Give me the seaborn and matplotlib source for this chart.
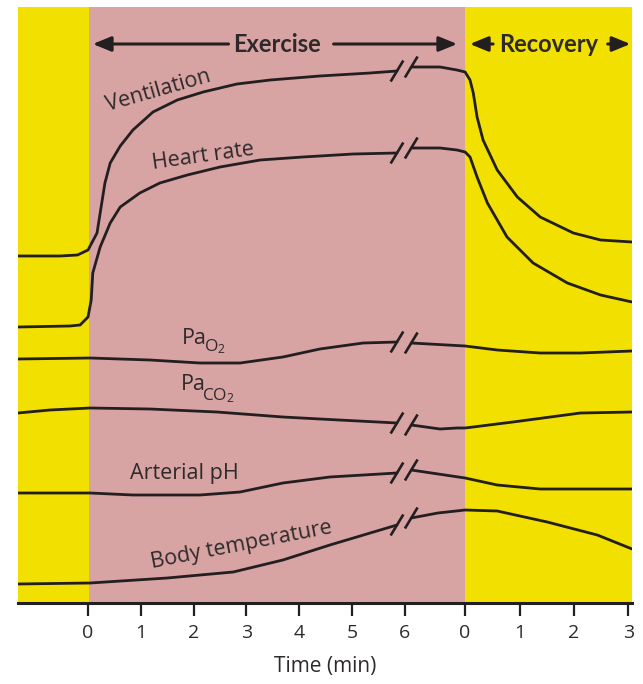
import numpy as np
import pandas as pd
import matplotlib
matplotlib.use("Agg")
import matplotlib.pyplot as plt
import seaborn as sns

# x axis: exercise minutes sit on x directly, recovery minutes start at REC0
REC0 = 7.14
REC_SCALE = 1.03

ex_ticks = [0, 1, 2, 3, 4, 5, 6]
rec_ticks = [0, 1, 2, 3]

# values are relative levels (arbitrary units)
# *_ex: before the axis break (exercise minutes), *_rec: after the break
# (minutes relative to end of exercise, negatives = last part of exercise)
vent_ex_t = [-1.33, -0.53, -0.2, 0.0, 0.17, 0.23, 0.32, 0.42, 0.61, 0.85, 1.23, 1.69, 2.18, 2.82, 3.45, 4.39, 5.34, 5.85]
vent_ex_y = [347, 347, 348, 353, 370, 390, 420, 440, 457, 473, 491, 503, 511, 519, 523, 527, 530, 532]
vent_rec_t = [-0.99, -0.46, -0.15, 0.0, 0.09, 0.15, 0.22, 0.33, 0.59, 0.96, 1.38, 1.99, 2.49, 3.07]
vent_rec_y = [536, 536, 533, 531, 523, 510, 486, 463, 433, 406, 386, 370, 363, 361]

hr_ex_t = [-1.33, -0.34, -0.15, 0.0, 0.06, 0.09, 0.23, 0.42, 0.61, 0.98, 1.36, 1.88, 2.5, 3.26, 4.07, 5.02, 5.85]
hr_ex_y = [276, 277, 278, 286, 303, 330, 356, 380, 396, 410, 420, 428, 436, 443, 446, 449, 450]
hr_rec_t = [-0.99, -0.46, -0.15, 0.0, 0.09, 0.22, 0.41, 0.77, 1.25, 1.88, 2.49, 3.07]
hr_rec_y = [455, 455, 453, 451, 446, 426, 400, 366, 340, 320, 308, 301]

po2_ex_t = [-1.33, 0.04, 1.17, 2.12, 2.88, 3.69, 4.39, 5.21, 5.85]
po2_ex_y = [244, 245, 243, 240, 240, 246, 254, 260, 261]
po2_rec_t = [-0.99, 0.0, 0.59, 1.38, 2.12, 3.07]
po2_rec_y = [260, 257, 253, 250, 250, 252]

pco2_ex_t = [-1.33, -0.72, 0.04, 1.17, 2.44, 3.69, 4.39, 5.85]
pco2_ex_y = [190, 193, 195, 194, 191, 186, 184, 180]
pco2_rec_t = [-0.99, -0.46, -0.15, 0.0, 0.88, 2.12, 3.07]
pco2_rec_y = [178, 174, 175, 175, 181, 190, 191]

ph_ex_t = [-1.33, 0.04, 0.85, 2.12, 2.88, 3.69, 4.58, 5.85]
ph_ex_y = [110, 110, 108, 108, 111, 120, 126, 130]
ph_rec_t = [-0.99, 0.0, 0.59, 1.38, 3.07]
ph_rec_y = [133, 125, 118, 114, 114]

temp_ex_t = [-1.33, 0.04, 1.5, 2.75, 3.69, 4.58, 5.85]
temp_ex_y = [19, 20, 25, 31, 43, 58, 78]
temp_rec_t = [-0.99, -0.5, 0.0, 0.59, 1.51, 2.43, 3.07]
temp_rec_y = [85, 90, 93, 92, 81, 68, 54]

curves = [
    ("vent", vent_ex_t, vent_ex_y, vent_rec_t, vent_rec_y),
    ("hr", hr_ex_t, hr_ex_y, hr_rec_t, hr_rec_y),
    ("po2", po2_ex_t, po2_ex_y, po2_rec_t, po2_rec_y),
    ("pco2", pco2_ex_t, pco2_ex_y, pco2_rec_t, pco2_rec_y),
    ("ph", ph_ex_t, ph_ex_y, ph_rec_t, ph_rec_y),
    ("temp", temp_ex_t, temp_ex_y, temp_rec_t, temp_rec_y),
]

rows = []
for name, et, ey, rt, ry in curves:
    for t, y in zip(et, ey):
        rows.append((name, name + "_pre", t, y))
    for t, y in zip(rt, ry):
        rows.append((name, name + "_post", REC0 + REC_SCALE * t, y))
df = pd.DataFrame(rows, columns=["curve", "seg", "x", "y"])

YELLOW = "#f2e000"
PINK = "#d8a3a3"
INK = "#231f20"
TXT = "#2e2a2b"

sns.set_style("white")
plt.rcParams["font.family"] = ["Open Sans", "DejaVu Sans"]
plt.rcParams["mathtext.fontset"] = "custom"
plt.rcParams["mathtext.rm"] = "Open Sans"
plt.rcParams["mathtext.it"] = "Open Sans:italic"
plt.rcParams["mathtext.bf"] = "Open Sans:bold"

fig = plt.figure(figsize=(6.43, 6.84), dpi=100)
ax = fig.add_axes([18 / 643, 81 / 684, 614 / 643, 596 / 684])
ax.set_facecolor(YELLOW)
ax.axvspan(0.02, REC0, color=PINK, lw=0, zorder=0)

sns.lineplot(data=df, x="x", y="y", units="seg", estimator=None, sort=False,
             color=INK, lw=2.0, ax=ax, legend=False)

# the // break marks where each curve is cut
for name, et, ey, rt, ry in curves:
    for bx, by in [(et[-1], ey[-1]), (REC0 + REC_SCALE * rt[0], ry[0])]:
        ax.plot([bx - 0.12, bx + 0.12], [by - 10.5, by + 10.5], color=INK, lw=1.9,
                solid_capstyle="butt")

ax.set_xlim(-1.326, 10.30)
ax.set_ylim(0, 596)

# header arrows
hy = 559
ex_mid = (0.02 + REC0) / 2
rec_mid = (REC0 + 10.30) / 2
arrow = dict(arrowstyle="-|>,head_length=1.1,head_width=0.45", color=INK, lw=2.2,
             shrinkA=0, shrinkB=0)
head = dict(ha="center", va="center", fontsize=17, fontweight="bold", color=TXT,
            family=["Lato", "DejaVu Sans"])
ax.text(ex_mid, hy, "Exercise", **head)
ax.annotate("", xy=(0.09, hy), xytext=(ex_mid - 0.92, hy), arrowprops=arrow)
ax.annotate("", xy=(6.99, hy), xytext=(ex_mid + 1.07, hy), arrowprops=arrow)
ax.text(rec_mid, hy, "Recovery", **head)
ax.annotate("", xy=(7.23, hy), xytext=(rec_mid - 1.05, hy), arrowprops=arrow)
ax.annotate("", xy=(10.27, hy), xytext=(rec_mid + 1.12, hy), arrowprops=arrow)

# curve labels
lab = dict(ha="center", va="center", fontsize=15.5, color=TXT, rotation_mode="anchor")
ax.text(1.33, 512, "Ventilation", rotation=16, **lab)
ax.text(2.18, 447, "Heart rate", rotation=8, **lab)
ax.text(1.82, 129, "Arterial pH", rotation=0, **lab)
ax.text(2.9, 58, "Body temperature", rotation=11, **lab)

# Pa with a large subscript, drawn as two pieces
pa = dict(fontsize=15.5, color=TXT, va="center")
sub = dict(fontsize=12.5, color=TXT, va="center", ha="left")
ax.text(2.25, 265, "Pa", ha="right", **pa)
ax.text(2.19, 256, r"O$_2$", **sub)
ax.text(2.22, 218, "Pa", ha="right", **pa)
ax.text(2.16, 207, r"CO$_2$", **sub)

ticks = ex_ticks + [REC0 + REC_SCALE * r for r in rec_ticks]
ax.set_xticks(ticks)
ax.set_xticklabels([str(t) for t in ex_ticks] + [str(r) for r in rec_ticks])
ax.set_yticks([])
ax.tick_params(axis="x", direction="out", length=9, width=1.6, color=INK,
               labelsize=14, labelcolor=TXT, pad=6, bottom=True)
ax.set_xlabel("Time (min)", fontsize=15, color=TXT, labelpad=10)
ax.set_ylabel("")

for s in ["left", "top", "right"]:
    ax.spines[s].set_visible(False)
ax.spines["bottom"].set_linewidth(2.2)
ax.spines["bottom"].set_color(INK)

fig.savefig("out.png", dpi=100, facecolor="white")
